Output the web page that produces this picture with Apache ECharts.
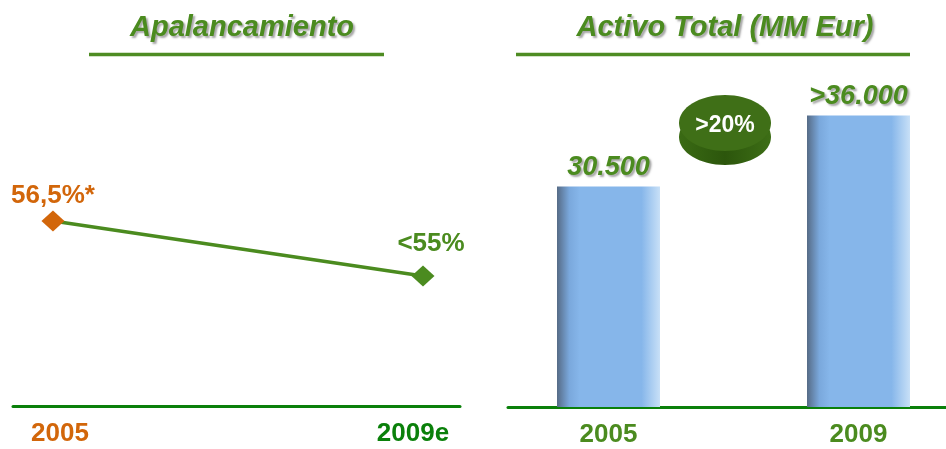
<!DOCTYPE html>
<html>
<head>
<meta charset="utf-8">
<script src="https://cdn.jsdelivr.net/npm/echarts@6/dist/echarts.min.js"></script>
<style>
    html, body { margin: 0; padding: 0; background: #fff; }
    #chart { width: 946px; height: 449px; }
</style>
</head>
<body>
<div id="chart"></div>
<script>
// datos
var leverageYears = ['2005', '2009e'];
var leverageValues = [56.5, 55];
var leverageLabels = ['56,5%*', '<55%'];

var assetYears = ['2005', '2009'];
var assetValues = [30500, 36000];
var assetLabels = ['30.500', '>36.000'];

var growthLabel = '>20%';

var GREEN = '#4b8b1f';
var AXIS_GREEN = '#0a800a';
var ORANGE = '#d2660a';
var FONT = '"Liberation Sans", Arial, sans-serif';

var chart = echarts.init(document.getElementById('chart'));

var shadowText = {
    textShadowColor: 'rgba(0,0,0,0.35)',
    textShadowBlur: 2,
    textShadowOffsetX: 2,
    textShadowOffsetY: 2
};

var titleStyle = Object.assign({
    fontFamily: FONT,
    fontSize: 29,
    fontWeight: 'bold',
    fontStyle: 'italic',
    color: GREEN
}, shadowText);

var option = {
    animation: false,
    backgroundColor: '#fff',
    title: [
        { text: 'Apalancamiento', left: 237, top: 8, textAlign: 'center', textStyle: titleStyle },
        { text: 'Activo Total (MM Eur)', left: 720, top: 8, textAlign: 'center', textStyle: titleStyle }
    ],
    grid: [
        { left: 13, right: 486, top: 60, bottom: 43 },
        { left: 508, right: 0, top: 60, bottom: 42 }
    ],
    xAxis: [{
        gridIndex: 0,
        type: 'value',
        min: -0.108,
        max: 1.1,
        splitLine: { show: false },
        axisTick: { show: false },
        axisLine: { show: true, lineStyle: { color: AXIS_GREEN, width: 3 } },
        axisLabel: {
            customValues: [0, 1],
            margin: 15,
            formatter: function(v) {
                return v === 0 ? '{a|' + leverageYears[0] + '}' : '{b|' + leverageYears[1] + '}';
            },
            rich: {
                a: { fontFamily: FONT, fontSize: 26, fontWeight: 'bold', color: ORANGE, padding: [0, 0, 0, 14] },
                b: { fontFamily: FONT, fontSize: 26, fontWeight: 'bold', color: AXIS_GREEN, padding: [0, 20, 0, 0] }
            }
        }
    }, {
        gridIndex: 1,
        type: 'value',
        min: -0.402,
        max: 1.35,
        splitLine: { show: false },
        axisTick: { show: false },
        axisLine: { show: true, lineStyle: { color: AXIS_GREEN, width: 3 } },
        axisLabel: {
            customValues: [0, 1],
            margin: 15,
            fontFamily: FONT,
            fontSize: 26,
            fontWeight: 'bold',
            color: GREEN,
            formatter: function(v) { return assetYears[v]; }
        }
    }],
    yAxis: [
        { gridIndex: 0, type: 'value', min: 51.45, max: 60.9, show: false },
        { gridIndex: 1, type: 'value', min: 13400, max: 40300, show: false }
    ],
    series: [{
        type: 'line',
        xAxisIndex: 0,
        yAxisIndex: 0,
        symbol: 'diamond',
        symbolSize: [23, 21],
        lineStyle: { color: GREEN, width: 3.5 },
        z: 3,
        data: leverageValues.map(function(v, i) {
            var c = i === 0 ? ORANGE : GREEN;
            return {
                value: [i, v],
                itemStyle: { color: c },
                label: {
                    show: true,
                    position: 'top',
                    distance: i === 0 ? 2 : 9,
                    offset: i === 0 ? [0, 0] : [8, 0],
                    formatter: leverageLabels[i],
                    fontFamily: FONT,
                    fontSize: 26,
                    fontWeight: 'bold',
                    color: c
                }
            };
        })
    }, {
        type: 'bar',
        xAxisIndex: 1,
        yAxisIndex: 1,
        barWidth: 103,
        itemStyle: {
            color: new echarts.graphic.LinearGradient(0, 0, 1, 0, [
                { offset: 0, color: '#566b86' },
                { offset: 0.12, color: '#7aa8dc' },
                { offset: 0.22, color: '#86b6ea' },
                { offset: 0.82, color: '#86b6ea' },
                { offset: 1, color: '#c8e0f7' }
            ])
        },
        label: Object.assign({
            show: true,
            position: 'top',
            distance: 5,
            fontFamily: FONT,
            fontSize: 27,
            fontWeight: 'bold',
            fontStyle: 'italic',
            color: GREEN,
            formatter: function(p) { return assetLabels[p.dataIndex]; }
        }, shadowText),
        data: assetValues.map(function(v, i) { return [i, v]; })
    }],
    graphic: [
        // subrayado de títulos
        { type: 'line', shape: { x1: 89, y1: 54.5, x2: 384, y2: 54.5 }, style: { stroke: '#4e8c23', lineWidth: 3.5 } },
        { type: 'line', shape: { x1: 516, y1: 54.5, x2: 910, y2: 54.5 }, style: { stroke: '#4e8c23', lineWidth: 3.5 } },
        // pastilla de crecimiento
        {
            type: 'group',
            left: 679,
            top: 95,
            children: [{
                type: 'ellipse',
                shape: { cx: 46, cy: 42, rx: 46, ry: 28 },
                style: {
                    fill: new echarts.graphic.LinearGradient(0, 0, 1, 0, [
                        { offset: 0, color: '#3a6a14' },
                        { offset: 0.5, color: '#2c560c' },
                        { offset: 1, color: '#3d6e16' }
                    ])
                }
            }, {
                type: 'ellipse',
                shape: { cx: 46, cy: 28, rx: 46, ry: 28 },
                style: { fill: '#3f6f17' }
            }, {
                type: 'text',
                x: 46,
                y: 31,
                style: {
                    text: growthLabel,
                    fill: '#fff',
                    font: 'bold 23px ' + FONT,
                    textAlign: 'center',
                    textVerticalAlign: 'middle'
                }
            }]
        }
    ]
};

chart.setOption(option);
</script>
</body>
</html>
